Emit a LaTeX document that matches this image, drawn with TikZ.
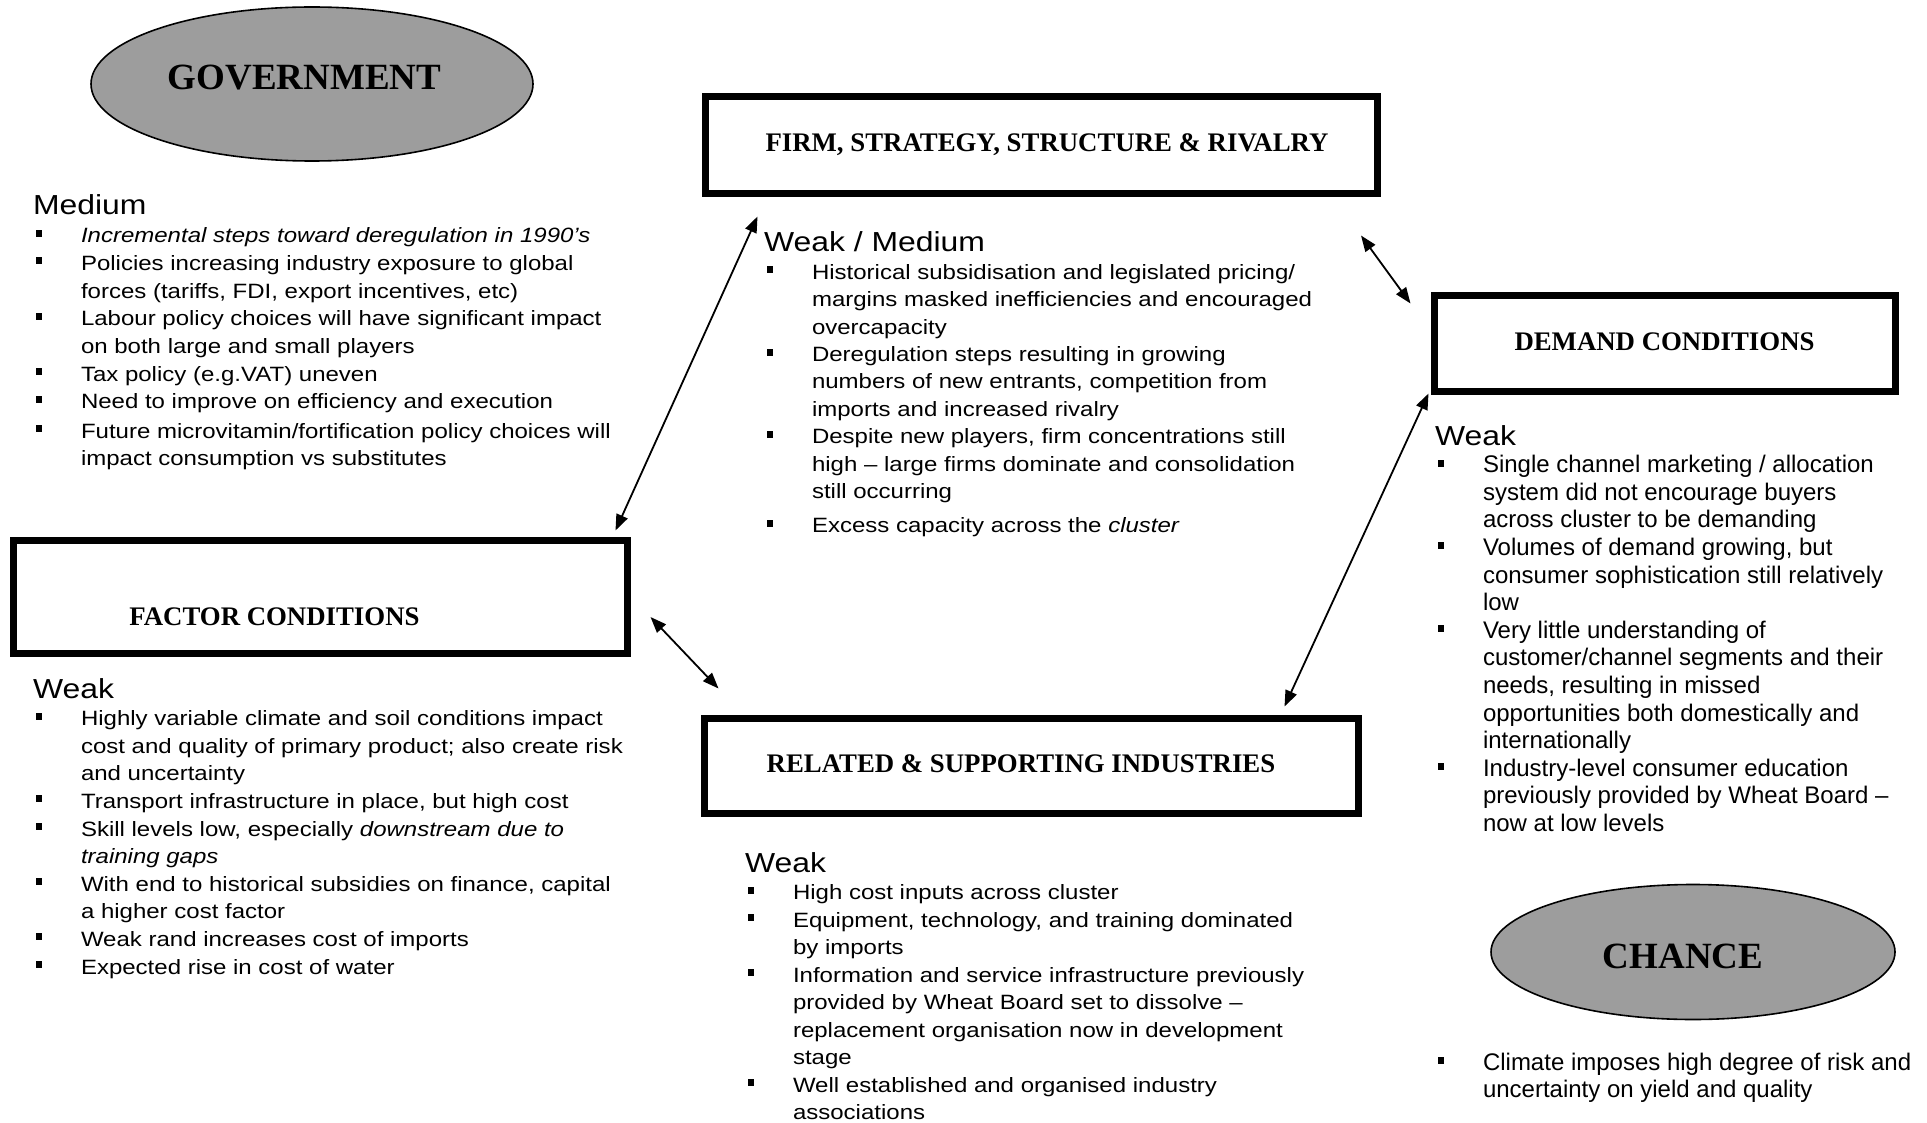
\documentclass[tikz,border=0pt]{standalone}
\usepackage{fontspec}
\usetikzlibrary{shapes.geometric,arrows.meta}
\newfontfamily\serifbf{Liberation Serif}
\newfontfamily\wsans[FakeStretch=1.16]{Liberation Sans}
\newfontfamily\nsans{Liberation Sans}
\definecolor{ellgray}{RGB}{157,157,157}
\newcommand\bsq{\raisebox{6pt}{\rule{6.5pt}{7pt}}}
\newcommand\bul{\hbox to 48pt{\hskip2.5pt\bsq\hfil}}
\newcommand\ind{\hskip48pt}
\newcommand\hd[1]{\hbox{\wsans\fontsize{27.5pt}{28pt}\selectfont #1}}
\tikzset{
  kbox/.style={draw, rectangle, line width=7pt, inner sep=0pt},
  ell/.style={ellipse, draw, line width=1.6pt, fill=ellgray, inner sep=0pt},
  lbl/.style={anchor=base, inner sep=0pt, font=\serifbf\bfseries\fontsize{26.8pt}{30pt}\selectfont},
  ellbl/.style={anchor=base, inner sep=0pt, font=\serifbf\bfseries\fontsize{37pt}{40pt}\selectfont},
  txt/.style={anchor=base west, inner sep=0pt, outer sep=0pt},
  dbl/.style={{Triangle[length=16pt,width=12pt]}-{Triangle[length=16pt,width=12pt]}, line width=1.8pt}
}
\begin{document}
\begin{tikzpicture}[x=1pt,y=-1pt]
\useasboundingbox (0,0) rectangle (1927,1123);
\fill[white] (0,0) rectangle (1927,1123);

% ellipses
\node[ell, minimum width=442pt, minimum height=154pt] (gov) at (312,84) {};
\node[ellbl] (govlbl) at (304.5,90) {GOVERNMENT};
\node[ell, minimum width=404pt, minimum height=135pt] (chance) at (1693,952) {};
\node[ellbl] (chancelbl) at (1683,968) {CHANCE};

% boxes
\node[kbox, minimum width=672pt, minimum height=97pt] (firm) at (1041.5,145) {};
\node[lbl] (firmlbl) at (1047,152) {FIRM, STRATEGY, STRUCTURE \& RIVALRY};
\node[kbox, minimum width=461pt, minimum height=96pt] (demand) at (1665,343.5) {};
\node[lbl] (demandlbl) at (1664.5,350) {DEMAND CONDITIONS};
\node[kbox, minimum width=614pt, minimum height=113pt] (factor) at (320.5,597) {};
\node[lbl] (factorlbl) at (274.5,625) {FACTOR CONDITIONS};
\node[kbox, minimum width=654pt, minimum height=95pt] (related) at (1031.5,766) {};
\node[lbl] (relatedlbl) at (1021,772) {RELATED \& SUPPORTING INDUSTRIES};

% arrow end points
\coordinate (a1) at ([shift={(55.5,19.5)}]firm.south west);
\coordinate (a2) at ([shift={(-15.5,-6.5)}]factor.north east);
\coordinate (b1) at ([shift={(-20,38.5)}]firm.south east);
\coordinate (b2) at ([shift={(-20.5,11.5)}]demand.north west);
\coordinate (c1) at ([shift={(19.5,20)}]factor.east);
\coordinate (c2) at ([shift={(17.5,-26.5)}]related.north west);
\coordinate (d1) at ([shift={(-77.5,-8.5)}]related.north east);
\coordinate (d2) at ([shift={(-2.5,-1.5)}]demand.south west);
\draw[dbl] (a2) -- (a1);
\draw[dbl] (b1) -- (b2);
\draw[dbl] (c1) -- (c2);
\draw[dbl] (d1) -- (d2);

% government text
\node[txt] (govtxt) at (33,215) {\vtop{\wsans\fontsize{20.7pt}{27.7pt}\selectfont
 \hd{Medium}
 \hbox{\bul\textit{Incremental steps toward deregulation in 1990’s}}
 \hbox{\bul Policies increasing industry exposure to global}
 \hbox{\ind forces (tariffs, FDI, export incentives, etc)}
 \hbox{\bul Labour policy choices will have significant impact}
 \hbox{\ind on both large and small players}
 \hbox{\bul Tax policy (e.g.VAT) uneven}
 \hbox{\bul Need to improve on efficiency and execution}
 \vskip1.5pt
 \hbox{\bul Future microvitamin/fortification policy choices will}
 \hbox{\ind impact consumption vs substitutes}}};

% firm text
\node[txt] (firmtxt) at (764,252) {\vtop{\wsans\fontsize{20.7pt}{27.4pt}\selectfont
 \hd{Weak / Medium}
 \hbox{\bul Historical subsidisation and legislated pricing/}
 \hbox{\ind margins masked inefficiencies and encouraged}
 \hbox{\ind overcapacity}
 \hbox{\bul Deregulation steps resulting in growing}
 \hbox{\ind numbers of new entrants, competition from}
 \hbox{\ind imports and increased rivalry}
 \hbox{\bul Despite new players, firm concentrations still}
 \hbox{\ind high – large firms dominate and consolidation}
 \hbox{\ind still occurring}
 \vskip7pt
 \hbox{\bul Excess capacity across the \textit{cluster}}}};

% demand text
\node[txt] (demandtxt) at (1435,445) {\vtop{\nsans\fontsize{24pt}{27.6pt}\selectfont
 \hd{Weak}
 \hbox{\bul Single channel marketing / allocation}
 \hbox{\ind system did not encourage buyers}
 \hbox{\ind across cluster to be demanding}
 \hbox{\bul Volumes of demand growing, but}
 \hbox{\ind consumer sophistication still relatively}
 \hbox{\ind low}
 \hbox{\bul Very little understanding of}
 \hbox{\ind customer/channel segments and their}
 \hbox{\ind needs, resulting in missed}
 \hbox{\ind opportunities both domestically and}
 \hbox{\ind internationally}
 \hbox{\bul Industry-level consumer education}
 \hbox{\ind previously provided by Wheat Board –}
 \hbox{\ind now at low levels}}};

% factor text
\node[txt] (factortxt) at (33,698) {\vtop{\wsans\fontsize{20.7pt}{27.6pt}\selectfont
 \hd{Weak}
 \hbox{\bul Highly variable climate and soil conditions impact}
 \hbox{\ind cost and quality of primary product; also create risk}
 \hbox{\ind and uncertainty}
 \hbox{\bul Transport infrastructure in place, but high cost}
 \hbox{\bul Skill levels low, especially \textit{downstream due to}}
 \hbox{\ind \textit{training gaps}}
 \hbox{\bul With end to historical subsidies on finance, capital}
 \hbox{\ind a higher cost factor}
 \hbox{\bul Weak rand increases cost of imports}
 \hbox{\bul Expected rise in cost of water}}};

% related text
\node[txt] (relatedtxt) at (745,872) {\vtop{\wsans\fontsize{20.7pt}{27.5pt}\selectfont
 \hd{Weak}
 \hbox{\bul High cost inputs across cluster}
 \hbox{\bul Equipment, technology, and training dominated}
 \hbox{\ind by imports}
 \hbox{\bul Information and service infrastructure previously}
 \hbox{\ind provided by Wheat Board set to dissolve –}
 \hbox{\ind replacement organisation now in development}
 \hbox{\ind stage}
 \hbox{\bul Well established and organised industry}
 \hbox{\ind associations}}};

% chance text
\node[txt] (chancetxt) at (1435,1070) {\vtop{\nsans\fontsize{24pt}{27.3pt}\selectfont
 \hbox{\bul Climate imposes high degree of risk and}
 \hbox{\ind uncertainty on yield and quality}}};
\end{tikzpicture}
\end{document}
